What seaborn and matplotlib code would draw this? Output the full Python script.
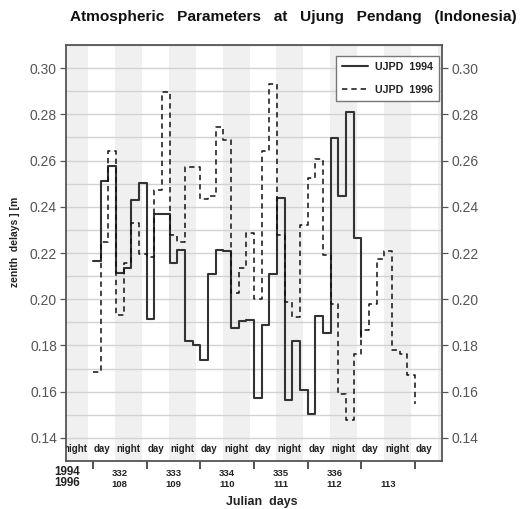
import numpy as np
import pandas as pd
import matplotlib
matplotlib.use("Agg")
import matplotlib.pyplot as plt
from matplotlib.ticker import MultipleLocator, FixedLocator
import seaborn as sns

# Zenith delays [m] at Ujung Pendang, one value per sampling interval
# (7 intervals per day, first interval starting at 00 UT of the first day)
zd_1994 = [0.2165, 0.2513, 0.2577, 0.2114, 0.2133, 0.2429, 0.2504, 0.1916,
           0.2369, 0.2369, 0.2157, 0.2213, 0.1818, 0.1801, 0.1736, 0.2107,
           0.2213, 0.2208, 0.1877, 0.1906, 0.1912, 0.1572, 0.1888, 0.2107,
           0.2439, 0.1565, 0.1818, 0.1606, 0.1505, 0.1928, 0.1854, 0.2699,
           0.2448, 0.2811, 0.2263, 0.1837]
zd_1996 = [0.1685, 0.2249, 0.2642, 0.1931, 0.2158, 0.2331, 0.2195, 0.2184,
           0.2473, 0.2895, 0.2280, 0.2249, 0.2571, 0.2571, 0.2434, 0.2448,
           0.2744, 0.2689, 0.2025, 0.2133, 0.2288, 0.1999, 0.2643, 0.2931,
           0.2280, 0.1986, 0.1924, 0.2321, 0.2523, 0.2605, 0.2191, 0.1979,
           0.1591, 0.1479, 0.1762, 0.1866, 0.1981, 0.2172, 0.2208, 0.1779,
           0.1765, 0.1671, 0.1548]
samples_per_day = 7

series_labels = ["UJPD  1994", "UJPD  1996"]
julian_1994 = ["332", "333", "334", "335", "336"]
julian_1996 = ["108", "109", "110", "111", "112", "113"]
y_ticks = [0.14, 0.16, 0.18, 0.20, 0.22, 0.24, 0.26, 0.28, 0.30]

# local night 18-06 h (UTC+8) in UT hours
night_start_ut, night_end_ut = 10, 22

df = pd.concat([
    pd.DataFrame({"day": np.arange(len(zd_1994)) / samples_per_day,
                  "zd": zd_1994, "series": series_labels[0]}),
    pd.DataFrame({"day": np.arange(len(zd_1996)) / samples_per_day,
                  "zd": zd_1996, "series": series_labels[1]}),
])

sns.set_theme(style="white")
plt.rcParams["font.family"] = ["Liberation Sans", "DejaVu Sans"]

W, H = 526, 509
fig = plt.figure(figsize=(W / 100, H / 100), dpi=100)
ax = fig.add_axes([66 / W, 1 - 461 / H, (442 - 66) / W, (461 - 45) / H])

# night shading
for k in range(-1, 7):
    ax.axvspan(k + night_start_ut / 24, k + night_end_ut / 24,
               color="#f0f0f0", lw=0, zorder=0.2)

styles = {series_labels[0]: dict(color="#333333", lw=1.5, linestyle="-"),
          series_labels[1]: dict(color="#111111", lw=1.1, linestyle=(0, (3.5, 2.6)))}
for name in series_labels:
    sns.lineplot(data=df[df["series"] == name], x="day", y="zd",
                 drawstyle="steps-post", estimator=None, sort=False,
                 label=name, ax=ax, zorder=3, **styles[name])

ax.set_xlim(-0.5, 6.5)
ax.set_ylim(0.13, 0.31)
ax.yaxis.set_major_locator(FixedLocator(y_ticks))
ax.yaxis.set_minor_locator(MultipleLocator(0.01))
ax.set_yticklabels([f"{v:.2f}" for v in y_ticks])
ax.grid(which="both", axis="y", color="#d2d2d2", lw=1.0, zorder=0.5)
ax.grid(axis="x", visible=False)
ax.set_axisbelow(True)

ax.xaxis.set_major_locator(FixedLocator(range(0, 7)))
ax.set_xticklabels([])
ax.tick_params(axis="x", which="major", direction="out", length=5.5,
               width=1.2, color="#333333", bottom=True)
ax.tick_params(axis="y", which="major", direction="out", length=4.5,
               width=0.9, color="#555555", left=True, right=True,
               labelleft=True, labelright=True, labelsize=10,
               labelcolor="#555555", pad=2)
ax.tick_params(axis="y", which="minor", length=0)
ax.set_xlabel("")
ax.set_ylabel("")

for sp in ax.spines.values():
    sp.set_color("#555555")
    sp.set_linewidth(1.3)

# day / night labels along the bottom
bold7 = dict(fontsize=7, fontweight="bold", color="#222222")
for k in range(-1, 7):
    night_c = k + (night_start_ut + night_end_ut) / 48
    day_c = k + 1 + ((night_end_ut + 24 + night_start_ut) / 2 - 24) / 24
    for xc, word in ((night_c, "night"), (day_c, "day")):
        if -0.5 < xc < 6.5:
            ax.text(xc, 0.029, word, transform=ax.get_xaxis_transform(),
                    ha="center", va="center", clip_on=True, **bold7)

# Julian day numbers below the axis
tr = ax.get_xaxis_transform()
y94 = -(473.3 - 461) / 416
y96 = -(484.3 - 461) / 416
for i, d in enumerate(julian_1994):
    ax.text(i + 0.5, y94, d, transform=tr, ha="center", va="center",
            fontsize=6.8, fontweight="bold", color="#222222")
for i, d in enumerate(julian_1996):
    ax.text(i + 0.5, y96, d, transform=tr, ha="center", va="center",
            fontsize=6.8, fontweight="bold", color="#222222")
fig.text(67 / W, 1 - 472.3 / H, "1994", ha="center", va="center",
         fontsize=8.4, fontweight="bold", color="#222222")
fig.text(67 / W, 1 - 483.3 / H, "1996", ha="center", va="center",
         fontsize=8.4, fontweight="bold", color="#222222")

fig.text(262 / W, 1 - 502 / H, "Julian  days", ha="center", va="center",
         fontsize=8.9, fontweight="bold", color="#222222")
fig.text(15 / W, 1 - 242 / H, "zenith  delays ] [m", rotation=90,
         ha="center", va="center", fontsize=7.5, fontweight="bold",
         color="#222222")
fig.text(70 / W, 1 - 17.5 / H,
         "Atmospheric   Parameters   at   Ujung   Pendang   (Indonesia)",
         ha="left", va="center", fontsize=11.1, fontweight="bold",
         color="#111111")

leg = ax.legend(loc="upper right", bbox_to_anchor=(0.992, 0.974),
                frameon=True, fancybox=False, edgecolor="#777777",
                framealpha=1, prop=dict(weight="bold", size=7.7),
                handlelength=2.4, handletextpad=0.65, labelspacing=1.15,
                borderpad=0.6, borderaxespad=0)
leg.get_frame().set_linewidth(1.0)
for t in leg.get_texts():
    t.set_color("#222222")

fig.savefig("out.png", dpi=100, facecolor="white")
